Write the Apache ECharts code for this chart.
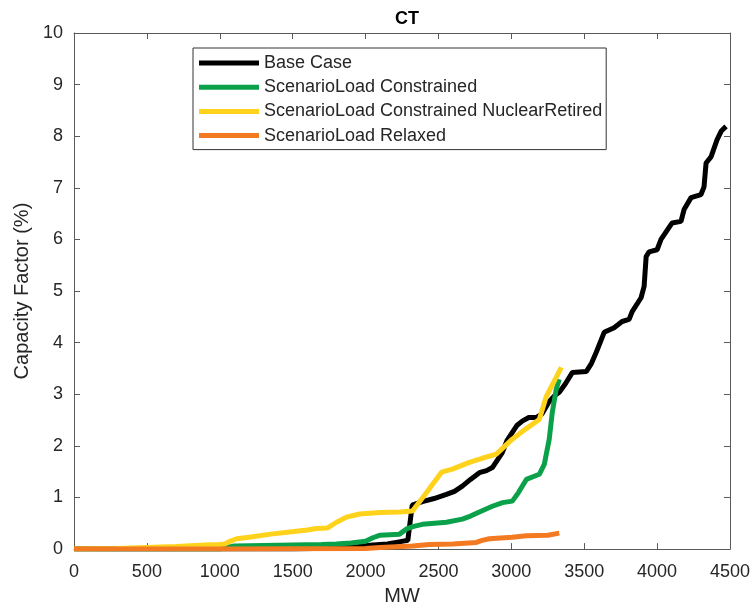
<!DOCTYPE html>
<html>
<head>
<meta charset="utf-8">
<script src="https://cdn.jsdelivr.net/npm/echarts@6/dist/echarts.min.js"></script>
<style>html,body{margin:0;padding:0;background:#fff;}#c{width:753px;height:611px;}</style>
</head>
<body>
<div id="c"></div>
<script>
const seriesNames = ['Base Case', 'ScenarioLoad Constrained', 'ScenarioLoad Constrained NuclearRetired', 'ScenarioLoad Relaxed'];
const xTicks = [0, 500, 1000, 1500, 2000, 2500, 3000, 3500, 4000, 4500];
const yTicks = [0, 1, 2, 3, 4, 5, 6, 7, 8, 9, 10];

const baseX = [0, 500, 1000, 1500, 1800, 1950, 2050, 2150, 2250, 2290, 2320, 2390, 2470, 2555, 2610, 2664, 2720, 2781, 2830, 2870, 2938, 2970, 3007, 3040, 3075, 3120, 3171, 3210, 3260, 3300, 3329, 3370, 3418, 3514, 3550, 3582, 3637, 3705, 3760, 3808, 3829, 3890, 3911, 3925, 3945, 4000, 4027, 4103, 4164, 4185, 4233, 4301, 4322, 4336, 4370, 4411, 4440, 4473];
const baseY = [0, 0, 0, 0, 0.02, 0.05, 0.08, 0.1, 0.15, 0.17, 0.85, 0.92, 0.98, 1.06, 1.12, 1.22, 1.35, 1.48, 1.52, 1.58, 1.87, 2.1, 2.26, 2.4, 2.48, 2.55, 2.55, 2.62, 2.86, 2.98, 3.04, 3.2, 3.42, 3.44, 3.6, 3.81, 4.2, 4.29, 4.41, 4.45, 4.6, 4.87, 5.09, 5.67, 5.76, 5.8, 6.0, 6.32, 6.35, 6.58, 6.81, 6.87, 7.02, 7.48, 7.6, 7.93, 8.1, 8.19];

const consX = [0, 1000, 1050, 1100, 1300, 1500, 1700, 1800, 1900, 2000, 2050, 2100, 2233, 2281, 2330, 2390, 2555, 2664, 2720, 2781, 2870, 2940, 3007, 3050, 3103, 3192, 3226, 3260, 3281, 3308, 3329];
const consY = [0, 0, 0.03, 0.06, 0.07, 0.08, 0.09, 0.1, 0.12, 0.15, 0.22, 0.27, 0.29, 0.39, 0.44, 0.48, 0.52, 0.58, 0.64, 0.72, 0.83, 0.9, 0.93, 1.1, 1.35, 1.45, 1.64, 2.13, 2.65, 3.1, 3.29];

const nucX = [0, 300, 500, 700, 900, 1000, 1034, 1070, 1116, 1226, 1350, 1479, 1600, 1664, 1740, 1801, 1870, 1959, 2100, 2233, 2322, 2420, 2521, 2596, 2712, 2800, 2897, 3007, 3100, 3192, 3240, 3343];
const nucY = [0, 0.01, 0.03, 0.05, 0.08, 0.09, 0.1, 0.15, 0.2, 0.24, 0.29, 0.33, 0.37, 0.4, 0.41, 0.52, 0.62, 0.68, 0.71, 0.72, 0.74, 1.1, 1.49, 1.55, 1.68, 1.76, 1.84, 2.13, 2.33, 2.51, 2.96, 3.52];

const relX = [0, 1000, 2000, 2100, 2322, 2438, 2600, 2760, 2800, 2849, 3007, 3103, 3250, 3329];
const relY = [0, 0, 0.01, 0.03, 0.06, 0.09, 0.1, 0.13, 0.17, 0.2, 0.23, 0.26, 0.27, 0.31];

const colors = ['#000000', '#0aa14a', '#ffd21c', '#f47a22'];

function zip(xs, ys) { return xs.map((x, i) => [x, ys[i]]); }
const allData = [zip(baseX, baseY), zip(consX, consY), zip(nucX, nucY), zip(relX, relY)];

const FONT = 'Liberation Sans, Arial, Helvetica, sans-serif';
const axisColor = '#5a5a5a';
const textColor = '#262626';

const chart = echarts.init(document.getElementById('c'), null, { renderer: 'canvas' });

const xBase = {
  type: 'value', min: xTicks[0], max: xTicks[xTicks.length - 1], interval: 500,
  axisLine: { show: true, onZero: false, lineStyle: { color: axisColor, width: 1 } },
  axisTick: { show: true, inside: true, length: 6, lineStyle: { color: axisColor } },
  splitLine: { show: false }
};
const yBase = {
  type: 'value', min: yTicks[0], max: yTicks[yTicks.length - 1], interval: 1,
  axisLine: { show: true, onZero: false, lineStyle: { color: axisColor, width: 1 } },
  axisTick: { show: true, inside: true, length: 6, lineStyle: { color: axisColor } },
  splitLine: { show: false }
};

chart.setOption({
  animation: false,
  backgroundColor: '#ffffff',
  title: {
    text: 'CT', left: 402, top: 5, textAlign: 'center',
    textStyle: { fontFamily: FONT, fontSize: 18, fontWeight: 'bold', color: '#000' }
  },
  grid: { left: 74, right: 22, top: 33, bottom: 61, containLabel: false },
  legend: {
    orient: 'vertical', left: 193, top: 48,
    padding: [5, 4, 4, 6],
    itemWidth: 60, itemHeight: 5, itemGap: 4.2,
    icon: 'rect',
    borderColor: '#333', borderWidth: 1, backgroundColor: '#fff',
    textStyle: { fontFamily: FONT, fontSize: 18, color: textColor, lineHeight: 20 },
    data: seriesNames
  },
  xAxis: [
    Object.assign({}, xBase, {
      position: 'bottom', name: 'MW', nameLocation: 'middle', nameGap: 29,
      nameTextStyle: { fontFamily: FONT, fontSize: 20, color: textColor },
      axisLabel: { show: true, margin: 14, fontFamily: FONT, fontSize: 18, color: textColor,
        formatter: function (v) { return String(v); } }
    }),
    Object.assign({}, xBase, { position: 'top', axisLabel: { show: false } })
  ],
  yAxis: [
    Object.assign({}, yBase, {
      position: 'left', name: 'Capacity Factor (%)', nameLocation: 'middle', nameGap: 38,
      nameTextStyle: { fontFamily: FONT, fontSize: 20, color: textColor },
      axisLabel: { show: true, margin: 11, fontFamily: FONT, fontSize: 18, color: textColor,
        formatter: function (v) { return String(v); } }
    }),
    Object.assign({}, yBase, { position: 'right', axisLabel: { show: false } })
  ],
  series: seriesNames.map((name, i) => ({
    name: name, type: 'line', xAxisIndex: 0, yAxisIndex: 0,
    data: allData[i], showSymbol: false, symbol: 'none',
    lineStyle: { color: colors[i], width: 5 },
    itemStyle: { color: colors[i] },
    z: 2 + i
  }))
});
</script>
</body>
</html>
